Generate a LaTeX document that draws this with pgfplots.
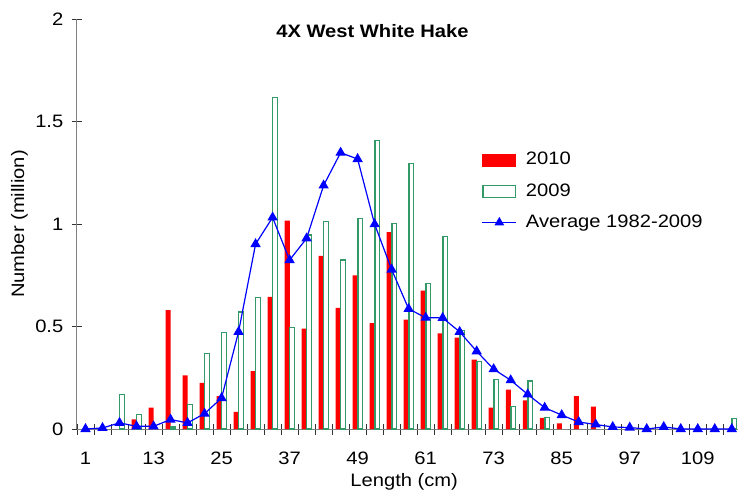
\documentclass[border=0pt]{standalone}
\usepackage{fontspec}
\setmainfont{Liberation Sans}[FakeStretch=1.12]
\usepackage{pgfplots}
\pgfplotsset{compat=1.18}
\definecolor{sgreen}{RGB}{51,153,102}
\definecolor{axgray}{RGB}{128,128,128}
\begin{document}
\fontsize{18}{21}\selectfont
\begin{tikzpicture}
\useasboundingbox (-77pt,-67pt) rectangle (661pt,429pt);
\begin{axis}[
  scale only axis, width=661pt, height=410pt,
  xmin=-0.5, xmax=116.1, ymin=0, ymax=2,
  axis x line=bottom, axis y line=left,
  axis line style={-, axgray, line width=1pt},
  clip=false,
  ytick={0,0.5,1,1.5,2},
  xtick={-0.5,2.5,...,116.5}, xticklabels={},
  extra x ticks={1,13,25,37,49,61,73,85,97,109},
  extra x tick labels={1,13,25,37,49,61,73,85,97,109},
  extra x tick style={major tick length=0pt, xticklabel style={yshift=-17pt}},
  tick align=center, major tick length=11pt,
  tick style={black!80, line width=0.8pt},
  /pgf/number format/assume math mode=true,
  tick label style={font=\fontsize{18}{21}\selectfont},
  yticklabel style={xshift=-2pt},
  title={\bfseries 4X West White Hake},
  title style={at={(0.447,0.955)}, anchor=center, font=\fontsize{18}{21}\selectfont},
  ylabel={Number (million)},
  ylabel style={at={(axis description cs:-0.087,0.5)}, anchor=center, font=\fontsize{18}{21}\selectfont},
  xlabel={Length (cm)},
  xlabel style={at={(axis description cs:0.495,-0.129)}, anchor=center, font=\fontsize{18}{21}\selectfont},
  legend style={draw=none, fill=none, at={(0.612,0.68)}, anchor=north west,
    row sep=12pt, column sep=7pt, inner sep=0pt, font=\fontsize{18}{21}\selectfont},
  legend cell align=left,
]
\addplot[ybar, bar width=0.9, bar shift=-0.42, fill=red, draw=none,
  legend image code/.code={\fill[red] (0pt,-6.5pt) rectangle (34pt,6.5pt);}]
  coordinates {
  (10,0.047) (13,0.104) (16,0.58) (19,0.262) (22,0.225) (25,0.16) (28,0.083)
  (31,0.282) (34,0.645) (37,1.016) (40,0.49) (43,0.845) (46,0.591) (49,0.75)
  (52,0.516) (55,0.96) (58,0.534) (61,0.675) (64,0.466) (67,0.446) (70,0.339)
  (73,0.104) (76,0.192) (79,0.14) (82,0.054) (85,0.027) (88,0.16) (91,0.109)
  };
\addlegendentry{2010}
\addplot[ybar, bar width=0.8, bar shift=0.45, fill=none, draw=sgreen, line width=1.2pt,
  legend image code/.code={\draw[sgreen, line width=1.2pt] (0.6pt,-6pt) rectangle (33.4pt,6pt);}]
  coordinates {
  (7,0.17) (10,0.07) (16,0.01) (19,0.12) (22,0.368) (25,0.47) (28,0.571)
  (31,0.641) (34,1.618) (37,0.495) (40,0.946) (43,1.014) (46,0.824) (49,1.027)
  (52,1.408) (55,1.001) (58,1.295) (61,0.71) (64,0.938) (67,0.482) (70,0.33)
  (73,0.241) (76,0.109) (79,0.234) (82,0.057) (115,0.05)
  };
\addlegendentry{2009}
\addplot[blue, line width=1.2pt, mark=triangle*, mark size=4.8pt, mark options={solid, fill=blue},
  legend image code/.code={\draw[blue, line width=1.2pt] (0pt,0pt) -- (34pt,0pt); \fill[blue] (17pt,0pt) ++(90:4.5pt) -- ++(-120:7.8pt) -- ++(0:7.8pt) -- cycle;}]
  coordinates {
  (1,0) (4,0.005) (7,0.03) (10,0.013) (13,0.013) (16,0.046) (19,0.03) (22,0.075)
  (25,0.151) (28,0.474) (31,0.902) (34,1.032) (37,0.824) (40,0.93) (43,1.188)
  (46,1.348) (49,1.317) (52,0.999) (55,0.778) (58,0.586) (61,0.543) (64,0.542)
  (67,0.474) (70,0.379) (73,0.292) (76,0.238) (79,0.169) (82,0.104) (85,0.068)
  (88,0.034) (91,0.022) (94,0.01) (97,0.007) (100,0) (103,0.01) (106,0)
  (109,0) (112,0) (115,0)
  };
\addlegendentry{Average 1982-2009}
\end{axis}
\end{tikzpicture}
\end{document}
